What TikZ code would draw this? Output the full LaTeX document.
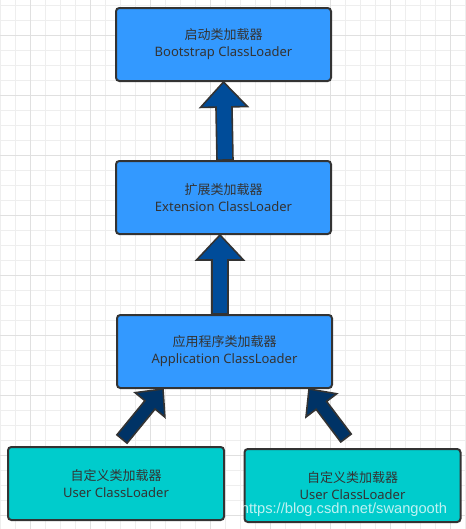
\documentclass[tikz,border=0pt]{standalone}
\usepackage{fontspec}
\setmainfont{Noto Sans}
\newfontfamily\cjk{Noto Sans CJK SC}
\newfontfamily\markfont{Liberation Sans}
\usepackage{xcolor}
\usetikzlibrary{calc, positioning}
\definecolor{loaderblue}{RGB}{51,153,255}
\definecolor{usercyan}{RGB}{0,204,204}
\definecolor{arrowblue}{RGB}{0,76,153}
\definecolor{arrowdark}{RGB}{0,51,102}
\definecolor{edge}{RGB}{51,51,51}
\definecolor{gridminor}{RGB}{238,238,238}
\definecolor{gridmajor}{RGB}{224,224,224}
\tikzset{
    loader/.style={rectangle, rounded corners=2.5pt, minimum width=161.25pt, minimum height=54.75pt, text centered, draw=edge, line width=1.5pt, fill=loaderblue, align=center, text=edge, font=\fontsize{9.75pt}{12.75pt}\selectfont},
    user/.style={loader, fill=usercyan, minimum width=162pt},
    bigarrow/.style={draw=edge, line width=1.2pt, line join=miter, fill=arrowblue},
    userarrow/.style={bigarrow, fill=arrowdark}
}
% block arrow: style, from, to, scale
\newcommand{\fatarrow}[4]{%
    \coordinate (fa-h) at ($(#3)!#4*18.75pt!(#2)$);
    \draw[#1] ($(#2)!#4*6pt!-90:(#3)$) -- ($(fa-h)!#4*6pt!-90:(#3)$) -- ($(fa-h)!#4*17.6pt!-90:(#3)$) -- (#3)
        -- ($(fa-h)!#4*17.6pt!90:(#3)$) -- ($(fa-h)!#4*6pt!90:(#3)$) -- ($(#2)!#4*6pt!90:(#3)$) -- cycle;
}

\begin{document}
\begin{tikzpicture}[x=0.75pt, y=-0.75pt]
    % canvas and grid
    \useasboundingbox (0,0) rectangle (465,529);
    \fill[white] (0,0) rectangle (465,529);
    \foreach \x in {0,15,...,465} \draw[gridminor, line width=0.75pt] (\x,0) -- (\x,529);
    \foreach \y in {5,20,...,529} \draw[gridminor, line width=0.75pt] (0,\y) -- (465,\y);
    \foreach \x in {30,90,...,465} \draw[gridmajor, line width=0.75pt] (\x,0) -- (\x,529);
    \foreach \y in {35,95,...,529} \draw[gridmajor, line width=0.75pt] (0,\y) -- (465,\y);

    % class loaders
    \node[loader] (boot) at (223.5,44.5) {{\cjk 启动类加载器}\\Bootstrap ClassLoader};
    \node[loader, below=58.5pt of boot] (ext) {{\cjk 扩展类加载器}\\Extension ClassLoader};
    \node[loader, below=59.25pt of ext, xshift=0.75pt] (app) {{\cjk 应用程序类加载器}\\Application ClassLoader};

    % user class loaders
    \node[user] (userA) at (116,483.5) {{\cjk 自定义类加载器}\\User ClassLoader};
    \node[user] (userB) at (352.5,485.5) {{\cjk 自定义类加载器}\\User ClassLoader};

    % delegation arrows
    \coordinate (extTail) at ($(ext.north)+(1.5,0)$);
    \coordinate (appTail) at ($(app.north)+(-4.5,0)$);
    \coordinate (extTip) at ($(ext.south)+(-3.5,0)$);
    \fatarrow{bigarrow}{extTail}{boot.south}{1}
    \fatarrow{bigarrow}{appTail}{extTip}{1}
    \coordinate (tipA) at ($(app.south west)+(47,0)$);
    \coordinate (tailA) at ($(userA.north)+(6,-7)$);
    \coordinate (tipB) at ($(app.south east)+(-24,0)$);
    \coordinate (tailB) at ($(userB.north)+(-6.5,-10)$);
    \fatarrow{userarrow}{tailA}{tipA}{0.82}
    \fatarrow{userarrow}{tailB}{tipB}{0.82}

    % watermark
    \node[text=white, opacity=0.75, font=\markfont\fontsize{11pt}{13pt}\selectfont] (mark) at (344,510) {https://blog.csdn.net/swangooth};
\end{tikzpicture}
\end{document}
